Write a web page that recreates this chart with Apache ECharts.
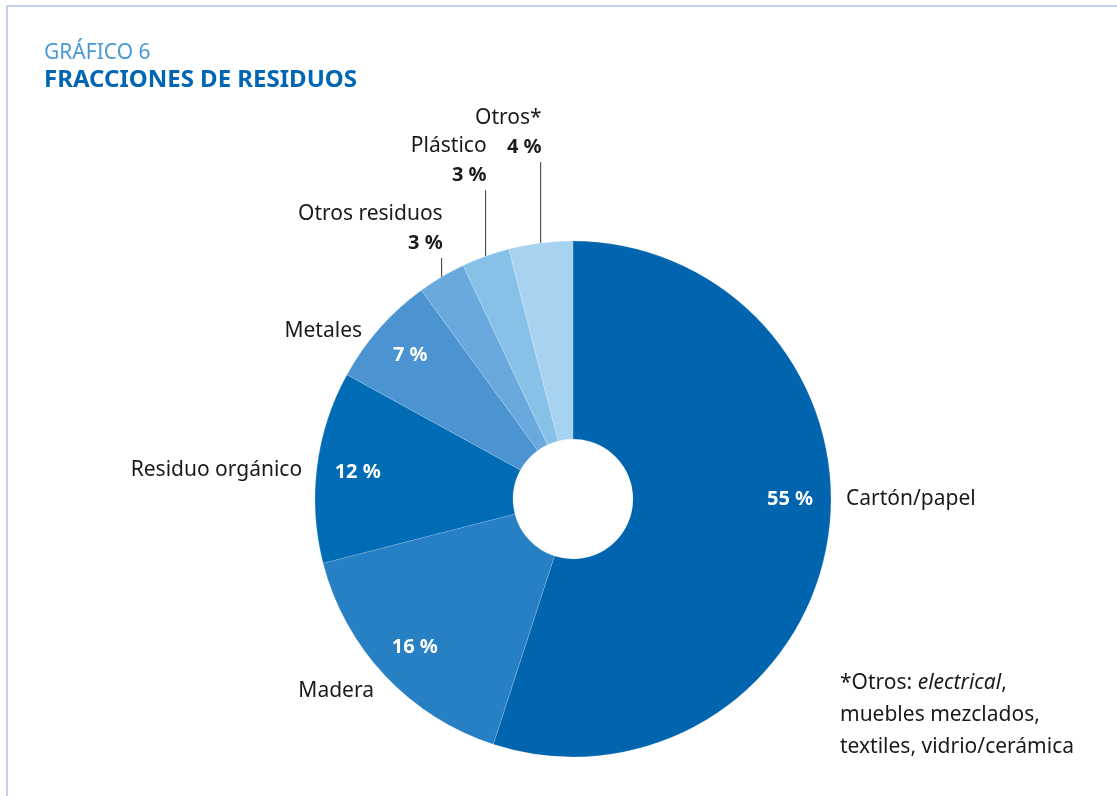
<!DOCTYPE html>
<html>
<head>
<meta charset="utf-8">
<title>Fracciones de residuos</title>
<script src="https://cdn.jsdelivr.net/npm/echarts@6/dist/echarts.min.js"></script>
<style>
  html, body { margin: 0; padding: 0; background: #fff; }
  #chart { width: 1117px; height: 796px; }
  .frame { position: absolute; left: 6px; top: 5px; right: 0; bottom: 0;
           border-left: 2px solid #c6d0ec; border-top: 2px solid #c6d0ec; pointer-events: none; }
</style>
</head>
<body>
<div id="chart"></div>
<div class="frame"></div>
<script>
// data
var categories = ['Cartón/papel', 'Madera', 'Residuo orgánico', 'Metales', 'Otros residuos', 'Plástico', 'Otros*'];
var shares = [55, 16, 12, 7, 3, 3, 4];
var sliceColors = ['#0064ae', '#2880c4', '#006cb5', '#4b94d1', '#69a9dd', '#88c1e8', '#a8d3f0'];

// small slices get their label outside, above a vertical leader line
var isSmall = shares.map(function (v) { return v < 5; });

// layout
var CX = 573, CY = 499, R_IN = 60, R_OUT = 258;
var PCT_R = 217, NAME_R = 273;
var labelAngleShift = [-9, 0, 0, -2, 0, 0, 0];   // degrees, only for label placement
var leaderLen = [0, 0, 0, 0, 19, 66, 81];
var FONT = '"Noto Sans", "Open Sans", sans-serif';

var total = shares.reduce(function (a, b) { return a + b; }, 0);
var midAngles = [];
var acc = 0;
shares.forEach(function (v) {
  midAngles.push((acc + v / 2) / total * 360);
  acc += v;
});
function pointAt(deg, r) {
  var a = deg * Math.PI / 180;
  return [CX + r * Math.sin(a), CY - r * Math.cos(a)];
}

var pieData = categories.map(function (c, i) {
  return { name: c, value: shares[i], itemStyle: { color: sliceColors[i] } };
});

var chart = echarts.init(document.getElementById('chart'));

chart.setOption({
  animation: false,
  title: [
    { text: 'GRÁFICO 6', left: 44, top: 43, padding: 0,
      textStyle: { fontFamily: FONT, fontSize: 21, fontWeight: 'normal', color: '#4a9ad6' } },
    { text: 'FRACCIONES DE RESIDUOS', left: 44, top: 68, padding: 0,
      textStyle: { fontFamily: FONT, fontSize: 24, fontWeight: 'bold', color: '#0066b3' } },
    { text: '*Otros: {i|electrical},\nmuebles mezclados,\ntextiles, vidrio/cerámica',
      left: 840, top: 667, padding: 0,
      textStyle: { fontFamily: FONT, fontSize: 21, fontWeight: 'normal', color: '#1a1a1a', lineHeight: 32,
        rich: { i: { fontFamily: FONT, fontSize: 21, fontStyle: 'italic', color: '#1a1a1a', lineHeight: 32 } } } }
  ],
  series: [
    {
      // visible slices + percentage labels inside
      type: 'pie',
      center: [CX, CY],
      radius: [R_IN, R_OUT],
      startAngle: 90,
      clockwise: true,
      silent: true,
      itemStyle: { borderColor: 'rgba(255,255,255,0.3)', borderWidth: 0.5 },
      data: pieData.map(function (d, i) {
        return Object.assign({}, d, { label: { show: !isSmall[i] } });
      }),
      label: {
        position: 'inside',
        formatter: function (p) { return p.value + ' %'; },
        fontFamily: FONT, fontSize: 20, fontWeight: 'bold', color: '#fff'
      },
      labelLayout: function (p) {
        if (isSmall[p.dataIndex]) return {};
        var pt = pointAt(midAngles[p.dataIndex] + (p.dataIndex === 0 ? labelAngleShift[0] : 0), PCT_R);
        return { x: pt[0], y: pt[1], align: 'center', verticalAlign: 'middle' };
      }
    },
    {
      // transparent copy carrying the category labels
      type: 'pie',
      center: [CX, CY],
      radius: [R_IN, R_OUT],
      startAngle: 90,
      clockwise: true,
      silent: true,
      itemStyle: { color: 'rgba(0,0,0,0)' },
      data: categories.map(function (c, i) {
        return { name: c, value: shares[i], labelLine: { show: isSmall[i] } };
      }),
      label: {
        position: 'outside',
        formatter: function (p) {
          return isSmall[p.dataIndex] ? '{n|' + p.name + '}\n{b|' + p.value + ' %}' : '{n|' + p.name + '}';
        },
        rich: {
          n: { fontFamily: FONT, fontSize: 21, color: '#1a1a1a', lineHeight: 30 },
          b: { fontFamily: FONT, fontSize: 20, fontWeight: 'bold', color: '#1a1a1a', lineHeight: 28 }
        }
      },
      labelLine: { lineStyle: { color: '#333', width: 1 } },
      labelLayout: function (p) {
        var i = p.dataIndex;
        if (isSmall[i]) {
          var e = pointAt(midAngles[i], R_OUT);
          var topY = e[1] - leaderLen[i];
          return {
            x: e[0] + 1, y: topY - 1, align: 'right', verticalAlign: 'bottom',
            labelLinePoints: [[e[0], e[1]], [e[0], topY], [e[0], topY]]
          };
        }
        var ang = midAngles[i] + labelAngleShift[i];
        var pt = pointAt(ang, NAME_R);
        var left = ang < 180;
        return { x: pt[0], y: pt[1] + (left ? 0 : 5), align: left ? 'left' : 'right', verticalAlign: 'middle' };
      }
    }
  ]
});
</script>
</body>
</html>
